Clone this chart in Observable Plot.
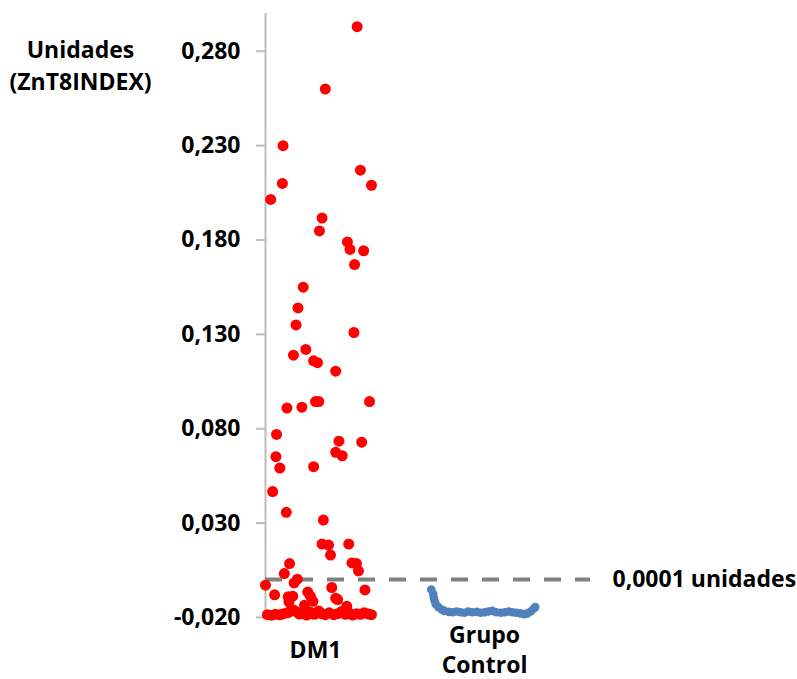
<!DOCTYPE html>
<html><head><meta charset="utf-8">
<script src="https://cdn.jsdelivr.net/npm/d3@7"></script>
<script src="https://cdn.jsdelivr.net/npm/@observablehq/plot@0.6"></script>
<style>body{margin:0;background:#fff}</style>
</head><body><div id="chart"></div>
<script>
// Category labels and their positions on the jitter axis
const categories = ["DM1", "Grupo\nControl"];
const categoryPositions = [0.77, 3.37];

// DM1 group: jitter position and value (ZnT8INDEX units)
const dm1X = [1.41,0.92,0.27,1.46,0.26,1.63,0.08,0.87,0.83,1.26,1.30,1.51,1.37,0.58,0.50,0.47,1.36,0.62,0.43,0.74,0.80,1.08,0.33,0.56,0.77,0.82,1.60,0.17,1.13,1.48,1.08,1.18,0.16,0.22,0.74,0.11,0.32,0.89,0.87,0.97,1.28,1.00,1.33,1.40,1.43,0.37,0.29,0.49,0.44,0.00,1.02,1.53,0.14,0.65,0.69,0.42,1.11,0.73,0.36,0.60,1.25,0.35,1.08,
  0.03,0.09,0.15,0.22,0.28,0.34,0.38,0.43,0.48,0.52,0.58,0.63,0.69,0.75,0.82,0.86,0.92,0.98,1.05,1.11,1.17,1.23,1.28,1.34,1.40,1.46,1.52,1.58,1.63];
const dm1Y = [0.293,0.260,0.230,0.217,0.210,0.209,0.2015,0.1916,0.1848,0.179,0.175,0.1743,0.167,0.155,0.144,0.135,0.131,0.122,0.119,0.116,0.115,0.1105,0.091,0.0914,0.0944,0.0944,0.0944,0.077,0.0734,0.0729,0.0675,0.0657,0.0652,0.0592,0.0599,0.0467,0.0357,0.0316,0.0189,0.0184,0.0189,0.0131,0.0089,0.0086,0.0047,0.0086,0.0033,0.0003,-0.0017,-0.0029,-0.0041,-0.0054,-0.008,-0.0065,-0.0087,-0.0087,-0.0105,-0.0114,-0.0117,-0.0135,-0.014,-0.009,-0.0098,
  -0.0185,-0.0188,-0.0183,-0.0186,-0.018,-0.0175,-0.0168,-0.016,-0.017,-0.0182,-0.0178,-0.0187,-0.0172,-0.0183,-0.0165,-0.018,-0.0185,-0.0175,-0.0185,-0.018,-0.0168,-0.0183,-0.0175,-0.0187,-0.018,-0.0183,-0.0175,-0.0182,-0.0185];

// Control group: jitter position and value
const controlX = [2.55,2.58,2.59,2.60,2.62,2.66,2.71,2.75,2.82,2.88,2.94,3.00,3.06,3.12,3.18,3.25,3.31,3.37,3.43,3.49,3.55,3.62,3.68,3.74,3.80,3.86,3.92,3.98,4.03,4.08,4.12,4.15];
const controlY = [-0.0052,-0.0075,-0.0095,-0.011,-0.013,-0.0145,-0.0158,-0.0165,-0.017,-0.0172,-0.0168,-0.0172,-0.0175,-0.0168,-0.0172,-0.017,-0.0175,-0.0172,-0.0168,-0.0165,-0.0172,-0.0175,-0.0172,-0.0168,-0.0172,-0.0175,-0.0178,-0.0182,-0.0178,-0.0168,-0.0155,-0.0145];

const yTicks = [-0.02, 0.03, 0.08, 0.13, 0.18, 0.23, 0.28];
const yDomain = [-0.02, 0.30];
const threshold = 0.0001;
const thresholdLabel = "0,0001 unidades";
const yTitle = "Unidades\n(ZnT8INDEX)";

const dm1 = dm1X.map((x, i) => ({x, y: dm1Y[i]}));
const control = controlX.map((x, i) => ({x, y: controlY[i]}));
const fmt = d => d.toFixed(3).replace(".", ",");
const FONT = 23;

const chart = Plot.plot({
  width: 797,
  height: 679,
  marginLeft: 265,
  marginRight: 207,
  marginTop: 13,
  marginBottom: 62,
  style: {fontFamily: "'Open Sans', sans-serif", fontSize: FONT + "px", fontWeight: "bold", color: "#000", background: "#fff"},
  x: {domain: [0, 5], axis: null},
  y: {domain: yDomain, axis: null},
  marks: [
    Plot.ruleX([0], {y1: yDomain[0], y2: yDomain[1], stroke: "#bcbcbc", strokeWidth: 2}),
    Plot.axisY({ticks: yTicks, tickFormat: fmt, tickSize: 9, tickPadding: 16, label: null, stroke: "#bcbcbc", strokeWidth: 2, fill: "#000", fontSize: FONT, fontWeight: "bold"}),
    Plot.axisX({ticks: categoryPositions, tickFormat: d => categories[categoryPositions.indexOf(d)], tickSize: 0, tickPadding: 31, label: null, lineAnchor: "middle", lineHeight: 1.3, fill: "#000", fontSize: FONT, fontWeight: "bold"}),
    Plot.ruleY([threshold], {stroke: "#808080", strokeWidth: 4, strokeDasharray: "17,14"}),
    Plot.dot(control, {x: "x", y: "y", r: 4.3, fill: "#4f81bd"}),
    Plot.dot(dm1, {x: "x", y: "y", r: 5.5, fill: "#ff0000"}),
    Plot.text([thresholdLabel], {frameAnchor: "right", y: () => threshold, dx: 22, textAnchor: "start", fill: "#000", fontSize: FONT, fontWeight: "bold"}),
    Plot.text([yTitle], {frameAnchor: "top-left", dx: -185, dy: 50, lineAnchor: "middle", textAnchor: "middle", lineHeight: 1.43, fill: "#000", fontSize: FONT, fontWeight: "bold"})
  ]
});
document.getElementById("chart").appendChild(chart);
</script>
</body></html>
